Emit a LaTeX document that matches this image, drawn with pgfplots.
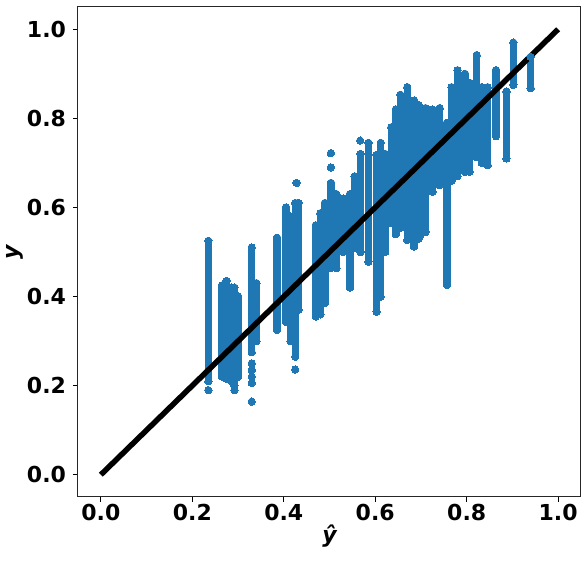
\documentclass[border=0pt]{standalone}
\usepackage{fontspec}
\setmainfont{DejaVu Sans}
\usepackage{pgfplots}
\usepackage{pgfplotstable}
\pgfplotsset{compat=1.18}
\definecolor{tabblue}{HTML}{1F77B4}
% columns of points: each block = one predicted value, from lowest to highest observed y
\pgfplotstableread{
x y
0.235 0.21
0.235 0.525
nan nan
0.265 0.22
0.265 0.425
nan nan
0.275 0.215
0.275 0.435
nan nan
0.285 0.21
0.285 0.42
nan nan
0.292 0.20
0.292 0.42
nan nan
0.300 0.22
0.300 0.40
nan nan
0.330 0.275
0.330 0.51
nan nan
0.340 0.30
0.340 0.43
nan nan
0.385 0.325
0.385 0.532
nan nan
0.405 0.343
0.405 0.60
nan nan
0.415 0.30
0.415 0.58
nan nan
0.425 0.265
0.425 0.61
nan nan
0.432 0.37
0.432 0.61
nan nan
0.470 0.355
0.470 0.56
nan nan
0.480 0.36
0.480 0.587
nan nan
0.490 0.386
0.490 0.61
nan nan
0.503 0.464
0.503 0.655
nan nan
0.515 0.464
0.515 0.63
nan nan
0.530 0.50
0.530 0.62
nan nan
0.545 0.42
0.545 0.63
nan nan
0.555 0.51
0.555 0.67
nan nan
0.568 0.50
0.568 0.72
nan nan
0.585 0.478
0.585 0.745
nan nan
0.603 0.366
0.603 0.718
nan nan
0.612 0.40
0.612 0.745
nan nan
0.622 0.50
0.622 0.72
nan nan
0.635 0.565
0.635 0.78
nan nan
0.645 0.54
0.645 0.82
nan nan
0.655 0.554
0.655 0.853
nan nan
0.670 0.527
0.670 0.87
nan nan
0.685 0.512
0.685 0.84
nan nan
0.695 0.53
0.695 0.83
nan nan
0.710 0.545
0.710 0.823
nan nan
0.725 0.635
0.725 0.82
nan nan
0.741 0.65
0.741 0.823
nan nan
0.757 0.426
0.757 0.79
nan nan
0.767 0.66
0.767 0.87
nan nan
0.780 0.67
0.780 0.908
nan nan
0.796 0.68
0.796 0.90
nan nan
0.806 0.68
0.806 0.88
nan nan
0.822 0.713
0.822 0.942
nan nan
0.833 0.70
0.833 0.87
nan nan
0.846 0.695
0.846 0.87
nan nan
0.864 0.76
0.864 0.908
nan nan
0.887 0.71
0.887 0.86
nan nan
0.902 0.875
0.902 0.97
nan nan
0.940 0.868
0.940 0.938
}\columns
\pgfplotstableread{
x y
0.235 0.19
0.292 0.19
0.330 0.25
0.330 0.235
0.330 0.22
0.330 0.206
0.330 0.164
0.425 0.236
0.428 0.655
0.503 0.69
0.503 0.722
0.567 0.75
0.700 0.54
}\outliers
\begin{document}
\begin{tikzpicture}
\begin{axis}[
  scale only axis, width=251.5pt, height=245pt,
  xmin=-0.05, xmax=1.05, ymin=-0.05, ymax=1.05,
  xtick={0,0.2,0.4,0.6,0.8,1.0}, ytick={0,0.2,0.4,0.6,0.8,1.0},
  xticklabel style={yshift=2.5pt, /pgf/number format/.cd, fixed, fixed zerofill, precision=1, assume math mode=true},
  yticklabel style={/pgf/number format/.cd, fixed, fixed zerofill, precision=1, assume math mode=true},
  tick label style={font=\fontsize{11}{13}\selectfont\bfseries},
  label style={font=\fontsize{11}{13}\selectfont\bfseries\itshape},
  xlabel={ŷ}, ylabel={y},
  xlabel style={yshift=5pt},
  ylabel style={yshift=-5pt},
  tick align=outside, major tick length=2.5pt, tick pos=left,
  tick style={line width=0.5pt, black},
  axis line style={line width=0.5pt, black!85},
  unbounded coords=jump,
  clip=true,
]
\addplot[tabblue, line width=3.7pt, line cap=round, mark=*, mark size=1.85pt, mark options={draw=tabblue, fill=tabblue, line width=0pt}] table[x=x,y=y] {\columns};
\addplot[only marks, mark=*, mark size=1.85pt, draw=tabblue, fill=tabblue, mark options={line width=0pt}] table[x=x,y=y] {\outliers};
\addplot[black, line width=2.75pt] coordinates {(0,0) (1,1)};
\end{axis}
\pgfresetboundingbox
\path[use as bounding box] ([xshift=-39pt,yshift=-32pt]current axis.south west) rectangle ([xshift=2.5pt,yshift=3.5pt]current axis.north east);
\end{tikzpicture}
\end{document}
